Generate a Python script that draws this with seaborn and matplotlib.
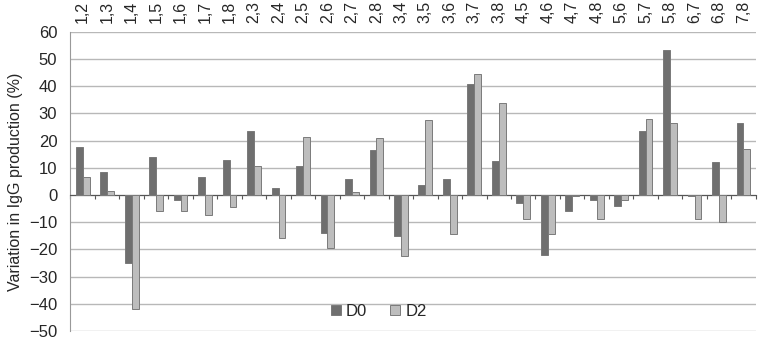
import numpy as np
import pandas as pd
import seaborn as sns
import matplotlib.pyplot as plt
from matplotlib.ticker import FixedLocator

pairs = ['1,2', '1,3', '1,4', '1,5', '1,6', '1,7', '1,8', '2,3', '2,4', '2,5',
         '2,6', '2,7', '2,8', '3,4', '3,5', '3,6', '3,7', '3,8', '4,5', '4,6',
         '4,7', '4,8', '5,6', '5,7', '5,8', '6,7', '6,8', '7,8']
d0 = [17.5, 8.5, -25, 14, -2, 6.5, 13, 23.5, 2.5, 10.5,
      -14, 6, 16.5, -15, 3.5, 6, 41, 12.5, -3, -22,
      -6, -2, -4, 23.5, 53.5, -0.5, 12, 26.5]
d2 = [6.7, 1.5, -42, -6, -6, -7.5, -4.5, 10.5, -16, 21.5,
      -19.5, 1, 21, -22.5, 27.5, -14.5, 44.5, 34, -9, -14.5,
      -0.3, -9, -2, 28, 26.5, -9, -10, 17]

df = pd.DataFrame({'pair': pairs * 2,
                   'value': d0 + d2,
                   'day': ['D0'] * len(pairs) + ['D2'] * len(pairs)})

sns.set_style('white')
plt.rcParams['font.family'] = ['Liberation Sans', 'DejaVu Sans']

fig = plt.figure(figsize=(7.58, 3.39), dpi=100)
ax = fig.add_axes([0.093, 0.024, 0.904, 0.882])

sns.barplot(data=df, x='pair', y='value', hue='day', order=pairs,
            palette={'D0': '#6f6f6f', 'D2': '#bdbdbd'}, width=0.56,
            edgecolor='#7a7a7a', linewidth=0.7, ax=ax, zorder=3)

ax.set_ylim(-50, 60)
ax.set_yticks(np.arange(-50, 61, 10))
ax.set_xlim(-0.5, len(pairs) - 0.5)
ax.yaxis.grid(True, color='#b8b8b8', linewidth=1)
ax.set_axisbelow(True)

# x axis line at zero, category labels on top
ax.spines['bottom'].set_position(('data', 0))
ax.spines['bottom'].set_color('#555555')
ax.spines['bottom'].set_linewidth(0.8)
ax.spines['top'].set_visible(False)
ax.spines['right'].set_visible(False)
ax.spines['left'].set_color('#999999')
ax.xaxis.set_minor_locator(FixedLocator(np.arange(-0.5, len(pairs), 1)))
ax.tick_params(axis='x', which='major', bottom=False, top=False,
               labelbottom=False, labeltop=True, labelrotation=90,
               labelsize=11.5, pad=3)
ax.tick_params(axis='x', which='minor', bottom=True, length=3,
               width=0.8, color='#555555', direction='out')
ax.tick_params(axis='y', labelsize=12, left=False, pad=6)
ax.set_xlabel('')
ax.set_ylabel('Variation in IgG production (%)', fontsize=11.5, labelpad=4)

ax.legend(loc='lower center', bbox_to_anchor=(0.45, -0.01), ncol=2,
          frameon=False, fontsize=12, handlelength=0.6, handleheight=0.6,
          handletextpad=0.3, columnspacing=1.4)

plt.savefig('out.png', dpi=100)
